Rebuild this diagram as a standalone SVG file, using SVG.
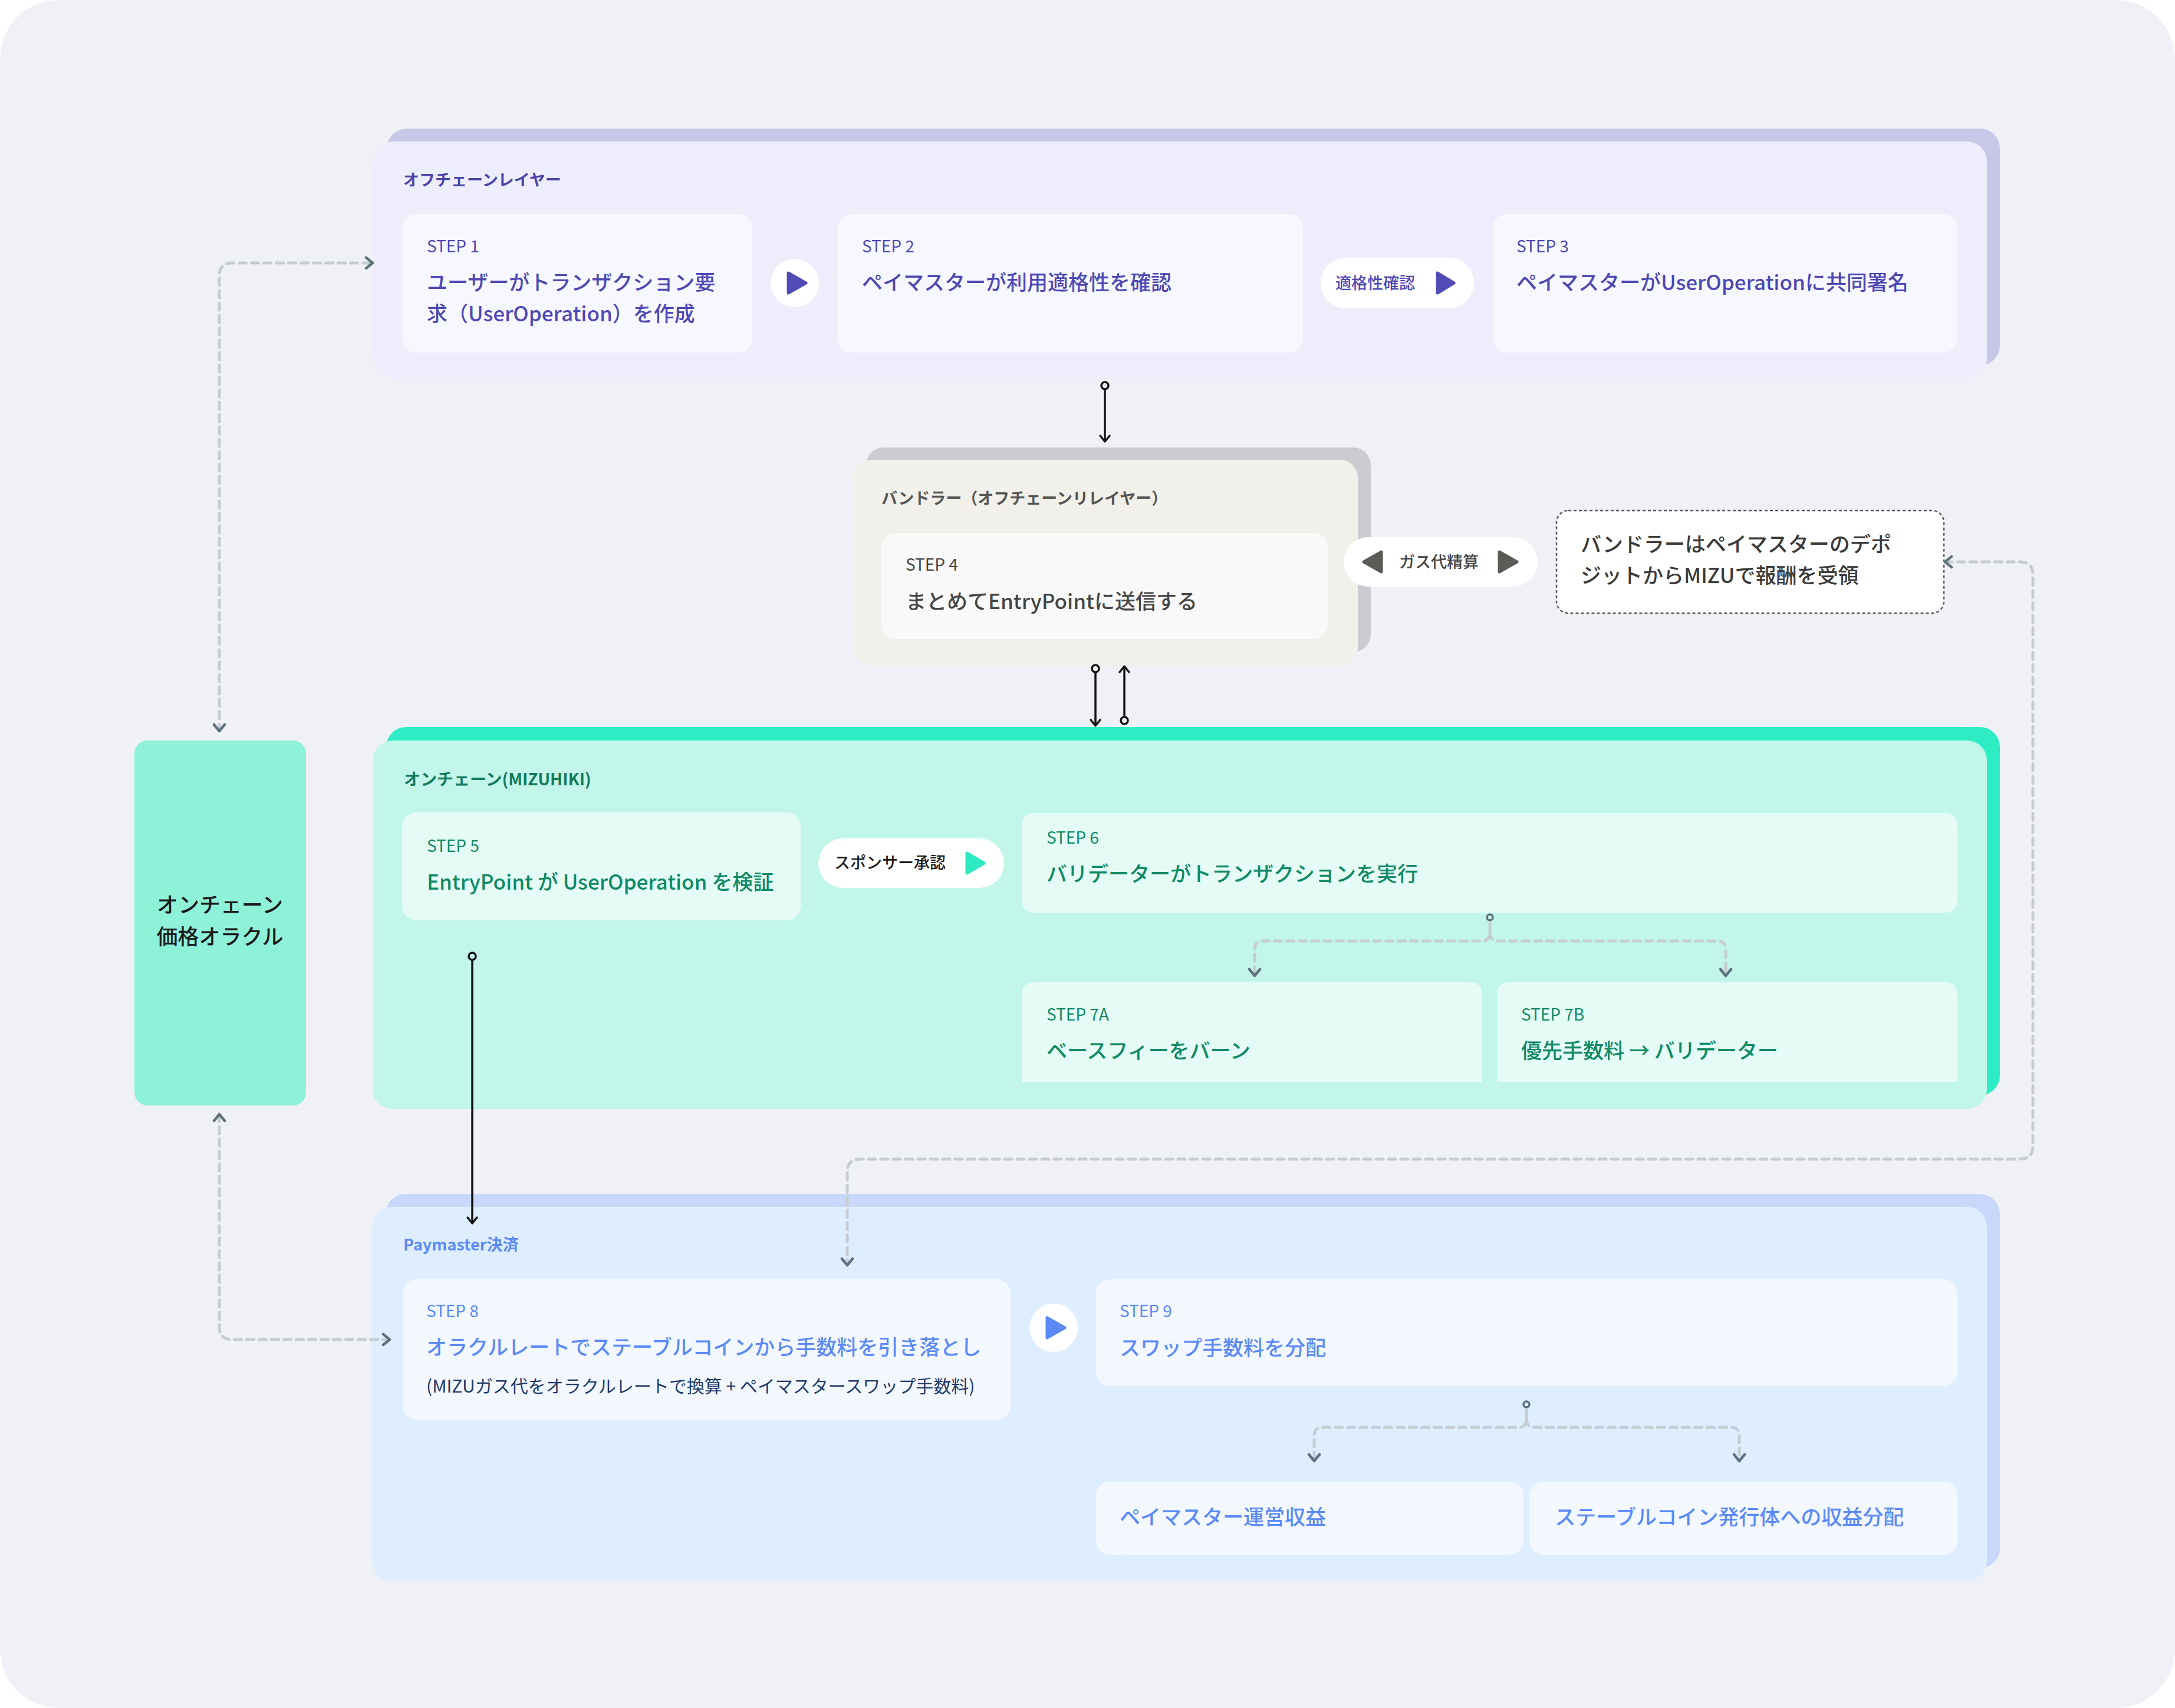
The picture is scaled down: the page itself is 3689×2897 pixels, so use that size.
<svg xmlns="http://www.w3.org/2000/svg" width="3689" height="2897" viewBox="0 0 3689 2897">
<style>
text{font-family:"Noto Sans CJK JP","Noto Sans",sans-serif;}
.lbl{font-size:27px;font-weight:700;}
.step{font-size:28px;font-weight:400;}
.main{font-size:35px;font-weight:500;}
.pill{font-size:27px;font-weight:500;}
.p-off{fill:#4f47b5;}
.p-bnd{fill:#454545;}
.p-on{fill:#0f8a64;}
.p-pm{fill:#5b8af7;}
.card-off{fill:#f7f8ff;}
.card-on{fill:#e5fcf6;}
.card-pm{fill:#f3f8ff;}
.gdash{fill:none;stroke:#c5cdd3;stroke-width:5;stroke-dasharray:12 9;stroke-linecap:round;}
.blk{fill:none;stroke:#141414;stroke-width:3.5;}
.ring{fill:none;stroke:#141414;stroke-width:3.5;}
.gring{fill:none;stroke:#5f717c;stroke-width:3.5;}
</style>
<defs>
<marker id="gch" viewBox="-16 -12 20 24" refX="0" refY="0" markerWidth="20" markerHeight="24" markerUnits="userSpaceOnUse" orient="auto-start-reverse">
<path d="M-11,-9 L0,0 L-11,9" fill="none" stroke="#5f717c" stroke-width="4.5" stroke-linecap="round" stroke-linejoin="round"/>
</marker>
<marker id="bch" viewBox="-14 -11 18 22" refX="0" refY="0" markerWidth="18" markerHeight="22" markerUnits="userSpaceOnUse" orient="auto-start-reverse">
<path d="M-10,-8 L0,0 L-10,8" fill="none" stroke="#141414" stroke-width="3.5" stroke-linecap="round" stroke-linejoin="round"/>
</marker>
</defs>
<rect x="0" y="0" width="3689" height="2897" fill="#ffffff"/>
<rect x="0" y="0" width="3689" height="2897" rx="100" fill="#f0f1f6"/>

<g id="offchain-layer">
<rect x="656" y="218" width="2736" height="402" rx="34" fill="#c9c7e7"/>
<rect x="633" y="240" width="2737" height="402" rx="34" fill="#eeedfc"/>
<text class="lbl" x="684" y="315" fill="#4b44a8">オフチェーンレイヤー</text>
</g>
<g id="step1">
<rect class="card-off" x="682" y="363" width="594" height="235" rx="24"/>
<text class="step p-off" x="724" y="428">STEP 1</text>
<text class="main p-off" x="724" y="492">ユーザーがトランザクション要</text>
<text class="main p-off" x="724" y="545">求（UserOperation）を作成</text>
</g>
<g id="play1">
<circle cx="1348" cy="480" r="41" fill="#ffffff"/>
<path d="M1337,463 L1337,497 L1367,480 Z" fill="#514bb5" stroke="#514bb5" stroke-width="5" stroke-linejoin="round"/>
</g>
<g id="step2">
<rect class="card-off" x="1421" y="363" width="789" height="235" rx="24"/>
<text class="step p-off" x="1462" y="428">STEP 2</text>
<text class="main p-off" x="1462" y="492">ペイマスターが利用適格性を確認</text>
</g>
<g id="pill-eligibility">
<rect x="2240" y="437" width="260" height="86" rx="43" fill="#ffffff"/>
<text class="pill" x="2265" y="490" fill="#4f47b5">適格性確認</text>
<path d="M2438,463 L2438,497 L2466,480 Z" fill="#514bb5" stroke="#514bb5" stroke-width="5" stroke-linejoin="round"/>
</g>
<g id="step3">
<rect class="card-off" x="2532" y="363" width="788" height="235" rx="24"/>
<text class="step p-off" x="2572" y="428">STEP 3</text>
<text class="main p-off" x="2572" y="492">ペイマスターがUserOperationに共同署名</text>
</g>

<g id="bundler-layer">
<rect x="1469" y="759" width="856" height="347" rx="30" fill="#cbcbd0"/>
<rect x="1446" y="780" width="857" height="349" rx="30" fill="#f2f0ea"/>
<text class="lbl" x="1495" y="855" fill="#555555">バンドラー（オフチェーンリレイヤー）</text>
</g>
<g id="step4">
<rect x="1495" y="904" width="757" height="180" rx="24" fill="#f9f9f9"/>
<text class="step p-bnd" x="1536" y="968">STEP 4</text>
<text class="main p-bnd" x="1536" y="1033">まとめてEntryPointに送信する</text>
</g>
<g id="pill-gas">
<rect x="2279" y="911" width="329" height="84" rx="42" fill="#ffffff"/>
<path d="M2343,936 L2343,970 L2313,953 Z" fill="#5b5b57" stroke="#5b5b57" stroke-width="5" stroke-linejoin="round"/>
<text class="pill" x="2373" y="963" fill="#454545">ガス代精算</text>
<path d="M2543,936 L2543,970 L2573,953 Z" fill="#5b5b57" stroke="#5b5b57" stroke-width="5" stroke-linejoin="round"/>
</g>
<g id="note-reward">
<rect x="2640" y="866" width="657" height="174" rx="20" fill="#ffffff" stroke="#5a5a5a" stroke-width="2.5" stroke-dasharray="5 4"/>
<text class="main" x="2681" y="936" fill="#3a3a3a">バンドラーはペイマスターのデポ</text>
<text class="main" x="2681" y="989" fill="#3a3a3a">ジットからMIZUで報酬を受領</text>
</g>

<g id="oracle">
<rect x="228" y="1256" width="291" height="619" rx="22" fill="#8ef2d9"/>
<text class="main" x="373" y="1548" text-anchor="middle" fill="#1a1a1a" style="font-size:36px">オンチェーン</text>
<text class="main" x="373" y="1602" text-anchor="middle" fill="#1a1a1a" style="font-size:36px">価格オラクル</text>
</g>

<g id="onchain-layer">
<rect x="655" y="1233" width="2737" height="625" rx="34" fill="#2eedc4"/>
<rect x="632" y="1256" width="2738" height="625" rx="34" fill="#c1f6e9"/>
<text class="lbl" x="685" y="1332" fill="#137a5a" style="font-size:28px">オンチェーン(MIZUHIKI)</text>
</g>
<g id="step5">
<rect class="card-on" x="682" y="1378" width="676" height="183" rx="24"/>
<text class="step p-on" x="724" y="1445">STEP 5</text>
<text class="main p-on" x="724" y="1509">EntryPoint が UserOperation を検証</text>
</g>
<g id="pill-sponsor">
<rect x="1388" y="1422" width="315" height="84" rx="42" fill="#ffffff"/>
<text class="pill" x="1415" y="1473" fill="#1a1a1a">スポンサー承認</text>
<path d="M1640,1447 L1640,1481 L1669,1464 Z" fill="#2eeac3" stroke="#2eeac3" stroke-width="5" stroke-linejoin="round"/>
</g>
<g id="step6">
<rect class="card-on" x="1733" y="1379" width="1587" height="169" rx="20"/>
<text class="step p-on" x="1775" y="1431">STEP 6</text>
<text class="main p-on" x="1775" y="1495">バリデーターがトランザクションを実行</text>
</g>
<g id="step7a">
<path class="card-on" d="M1733,1835 V1688 Q1733,1666 1755,1666 H2492 Q2514,1666 2514,1688 V1835 Z"/>
<text class="step p-on" x="1775" y="1731">STEP 7A</text>
<text class="main p-on" x="1775" y="1795">ベースフィーをバーン</text>
</g>
<g id="step7b">
<path class="card-on" d="M2539,1835 V1688 Q2539,1666 2561,1666 H3298 Q3320,1666 3320,1688 V1835 Z"/>
<text class="step p-on" x="2580" y="1731">STEP 7B</text>
<text class="main p-on" x="2580" y="1795">優先手数料 → バリデーター</text>
</g>

<g id="paymaster-layer">
<rect x="654" y="2025" width="2738" height="635" rx="34" fill="#c9d8fa"/>
<rect x="631" y="2047" width="2739" height="635" rx="34" fill="#deeefe"/>
<text class="lbl" x="684" y="2121" fill="#5b8af7">Paymaster決済</text>
</g>
<g id="step8">
<rect class="card-pm" x="683" y="2170" width="1031" height="238" rx="24"/>
<text class="step p-pm" x="723" y="2234">STEP 8</text>
<text class="main p-pm" x="723" y="2298">オラクルレートでステーブルコインから手数料を引き落とし</text>
<text x="723" y="2362" fill="#1e3a6b" style="font-size:30px;font-weight:400">(MIZUガス代をオラクルレートで換算 + ペイマスタースワップ手数料)</text>
</g>
<g id="play2">
<circle cx="1787" cy="2252" r="41" fill="#ffffff"/>
<path d="M1776,2235 L1776,2269 L1806,2252 Z" fill="#5b8af7" stroke="#5b8af7" stroke-width="5" stroke-linejoin="round"/>
</g>
<g id="step9">
<rect class="card-pm" x="1859" y="2170" width="1461" height="181" rx="24"/>
<text class="step p-pm" x="1899" y="2234">STEP 9</text>
<text class="main p-pm" x="1899" y="2299">スワップ手数料を分配</text>
</g>
<g id="revenue-paymaster">
<rect class="card-pm" x="1859" y="2513" width="725" height="124" rx="24"/>
<text class="main p-pm" x="1899" y="2586">ペイマスター運営収益</text>
</g>
<g id="revenue-stablecoin">
<rect class="card-pm" x="2594" y="2513" width="726" height="124" rx="24"/>
<text class="main p-pm" x="2637" y="2586">ステーブルコイン発行体への収益分配</text>
</g>

<g id="connectors">
<circle class="ring" cx="1874" cy="654" r="6"/>
<line class="blk" x1="1874" y1="660" x2="1874" y2="749" marker-end="url(#bch)"/>
<circle class="ring" cx="1858" cy="1134" r="6"/>
<line class="blk" x1="1858" y1="1140" x2="1858" y2="1231" marker-end="url(#bch)"/>
<circle class="ring" cx="1907" cy="1222" r="6"/>
<line class="blk" x1="1907" y1="1216" x2="1907" y2="1130" marker-end="url(#bch)"/>
<circle class="ring" cx="801" cy="1622" r="6"/>
<line class="blk" x1="801" y1="1628" x2="801" y2="2075" marker-end="url(#bch)"/>

<path class="gdash" d="M372,1240 V468 Q372,446 394,446 H632" marker-start="url(#gch)" marker-end="url(#gch)"/>
<path class="gdash" d="M372,1890 V2250 Q372,2272 394,2272 H661" marker-start="url(#gch)" marker-end="url(#gch)"/>
<path class="gdash" d="M3299,953 H3426 Q3448,953 3448,975 V1944 Q3448,1966 3426,1966 H1459 Q1437,1966 1437,1988 V2146" marker-start="url(#gch)" marker-end="url(#gch)"/>

<circle class="gring" cx="2527" cy="1556" r="5"/>
<path class="gdash" d="M2527,1566 V1582 Q2527,1596 2513,1596 H2142 Q2128,1596 2128,1610 V1655" marker-end="url(#gch)"/>
<path class="gdash" d="M2527,1582 Q2527,1596 2541,1596 H2913 Q2927,1596 2927,1610 V1655" marker-end="url(#gch)"/>

<circle class="gring" cx="2589" cy="2382" r="5"/>
<path class="gdash" d="M2589,2392 V2407 Q2589,2421 2575,2421 H2243 Q2229,2421 2229,2435 V2478" marker-end="url(#gch)"/>
<path class="gdash" d="M2589,2407 Q2589,2421 2603,2421 H2936 Q2950,2421 2950,2435 V2478" marker-end="url(#gch)"/>
</g>
</svg>
